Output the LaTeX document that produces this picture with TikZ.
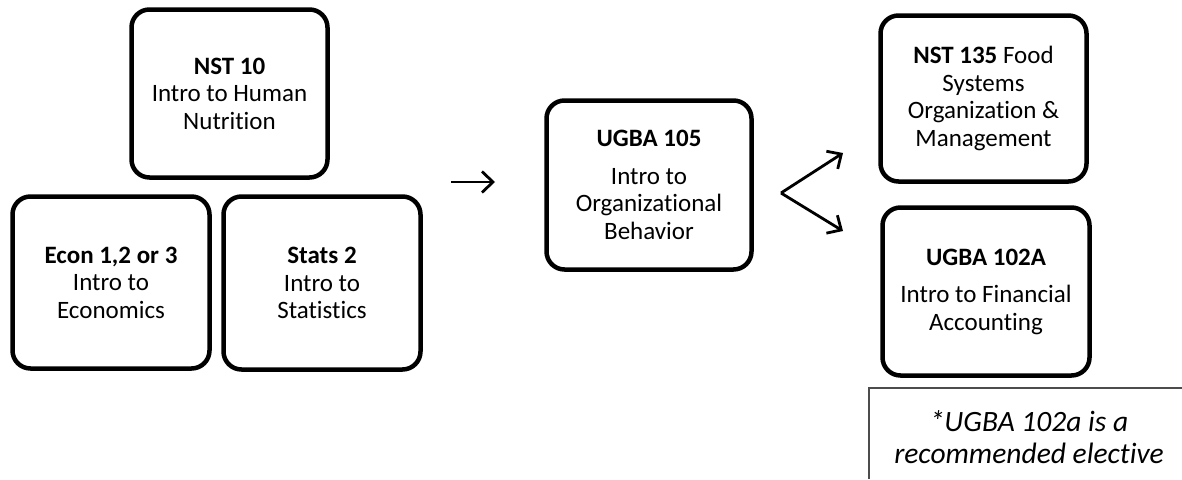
\documentclass[tikz,border=0pt]{standalone}
\usepackage{fontspec}
\setmainfont{Carlito}[Ligatures=NoCommon]
\usetikzlibrary{positioning}
\usetikzlibrary{arrows.meta}
\tikzset{course/.style={draw,rounded corners=18pt,line width=4.5pt,align=center,
                        font=\fontsize{25}{27.5}\selectfont,inner sep=0pt},
         flow/.style={line width=2.8pt,-{Straight Barb[length=11pt,width=21pt,line width=2.8pt]}},
         note/.style={align=center,font=\fontsize{29.5}{31.5}\selectfont\itshape},
         }
\begin{document}
\begin{tikzpicture}[x=1pt,y=-1pt]
\useasboundingbox (0,0) rectangle (1182,479);
\node[course,minimum width=196pt,minimum height=168pt] (nst10) at (229.5,93.5)
    {\textbf{NST 10}\\Intro to Human\\Nutrition};
\node[course,minimum width=197pt,minimum height=172pt] (econ) at (111,282.5)
    {\textbf{Econ 1,2 or 3}\\Intro to\\Economics};
\node[course,minimum width=197pt,minimum height=173pt] (stats) at (322,283)
    {\textbf{Stats 2}\\Intro to\\Statistics};
\node[course,minimum width=205pt,minimum height=169pt] (ugba105) at (649,185)
    {\textbf{UGBA 105}\\[10pt]Intro to\\Organizational\\Behavior};
\node[course,minimum width=206pt,minimum height=166pt] (nst135) at (983.5,98.5)
    {\textbf{NST 135} Food\\Systems\\Organization \&\\Management};
\node[course,minimum width=207pt,minimum height=168pt] (ugba102) at (986,291.5)
    {\textbf{UGBA 102A}\\[10pt]Intro to Financial\\Accounting};
\coordinate (in1) at (451,182);
\coordinate (in2) at (495,182);
\coordinate (fork) at (781,193);
\coordinate (up) at (843,153);
\coordinate (down) at (843,231);
\draw[flow] (in1) -- (in2);
\draw[flow] (fork) -- (up);
\draw[flow] (fork) -- (down);
\node[note] (elective) at (1029,437) {*UGBA 102a is a\\recommended elective};
\draw[line width=1.5pt,black!70] (869,479) -- (869,388) -- (1182,388);
\end{tikzpicture}
\end{document}
